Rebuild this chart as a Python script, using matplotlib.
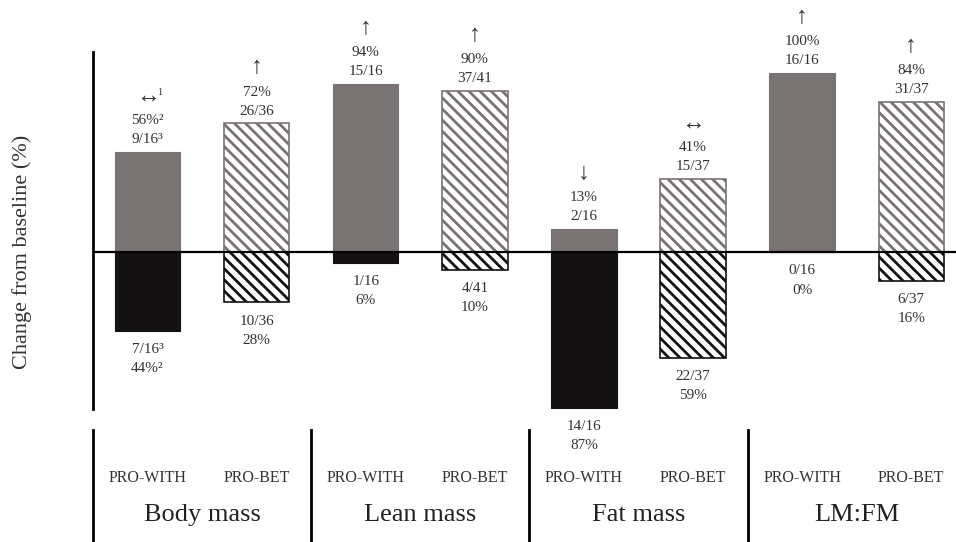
import matplotlib
matplotlib.use("Agg")
import matplotlib.pyplot as plt
import numpy as np

plt.rcParams['font.family'] = ['Liberation Serif', 'DejaVu Serif']
plt.rcParams['hatch.linewidth'] = 2.0

# data
groups = ["Body mass", "Lean mass", "Fat mass", "LM:FM"]
arms = ["PRO-WITH", "PRO-BET"]
up_pct = [56, 72, 94, 90, 13, 41, 100, 84]
down_pct = [44, 28, 6, 10, 87, 59, 0, 16]
arrows = ["\u2194", "\u2191", "\u2191", "\u2191", "\u2193", "\u2194", "\u2191", "\u2191"]
up_labels = ["56%\u00b2\n9/16\u00b3", "72%\n26/36", "94%\n15/16", "90%\n37/41",
             "13%\n2/16", "41%\n15/37", "100%\n16/16", "84%\n31/37"]
down_labels = ["7/16\u00b3\n44%\u00b2", "10/36\n28%", "1/16\n6%", "4/41\n10%",
               "14/16\n87%", "22/37\n59%", "0/16\n0%", "6/37\n16%"]

W, H = 956, 542
fig = plt.figure(figsize=(W / 100, H / 100), dpi=100)
ax = fig.add_axes([93 / W, 0, 1 - 93 / W, 1])

scale = 1.79  # px per %
zero_px = 252
ax.set_ylim((zero_px - H) / scale, zero_px / scale)
ax.set_xlim(-0.5, 7.41)

x = np.arange(len(up_pct))
gray = "#7a7373"
black = "#141112"
width = 0.6

for i in x:
    if i % 2 == 0:
        ax.bar(i, up_pct[i], width, color=gray, edgecolor=gray, linewidth=0.8)
        ax.bar(i, -down_pct[i], width, color=black, edgecolor=black, linewidth=0.8)
    else:
        ax.bar(i, up_pct[i], width, facecolor="white", edgecolor=gray,
               hatch="\\\\\\", linewidth=1.2)
        ax.bar(i, -down_pct[i], width, facecolor="white", edgecolor=black,
               hatch="\\\\\\", linewidth=1.2)

txt = "#333333"
for i in x:
    ax.annotate(up_labels[i], (i, up_pct[i]), xytext=(0, 4), textcoords="offset points",
                ha="center", va="bottom", fontsize=11, color=txt, linespacing=1.6)
    ax.annotate(arrows[i], (i, up_pct[i]), xytext=(0, 40), textcoords="offset points",
                ha="center", va="center", fontsize=17, color=txt)
    if i == 0:
        ax.annotate("1", (i, up_pct[i]), xytext=(9, 43), textcoords="offset points",
                    ha="center", va="center", fontsize=7.5, color=txt)
    ax.annotate(down_labels[i], (i, -down_pct[i]), xytext=(0, -9), textcoords="offset points",
                ha="center", va="top", fontsize=11, color=txt, linespacing=1.6)

ax.axhline(0, color="black", linewidth=1.6)

# axis lines
for s in ["top", "right", "bottom"]:
    ax.spines[s].set_visible(False)
ax.spines["left"].set_linewidth(2)
ax.spines["left"].set_bounds(-87.5, 112)
ax.set_xticks([])
ax.set_yticks([])

# bottom category block
y_div_top = (zero_px - 430) / scale
y_div_bot = (zero_px - 545) / scale
for d in [-0.5, 1.5, 3.5, 5.5]:
    ax.plot([d, d], [y_div_top, y_div_bot], color="black", linewidth=2, clip_on=False)

y_arm = (zero_px - 478) / scale
y_grp = (zero_px - 515) / scale
for i in x:
    ax.text(i, y_arm, arms[i % 2], ha="center", va="center", fontsize=11.5, color=txt)
for g, name in enumerate(groups):
    ax.text(2 * g + 0.5, y_grp, name, ha="center", va="center", fontsize=19, color="#222222")

fig.text(22 / W, 1 - 252 / H, "Change from baseline (%)", rotation=90,
         ha="center", va="center", fontsize=16, color=txt)

fig.savefig("out.png", dpi=100)
